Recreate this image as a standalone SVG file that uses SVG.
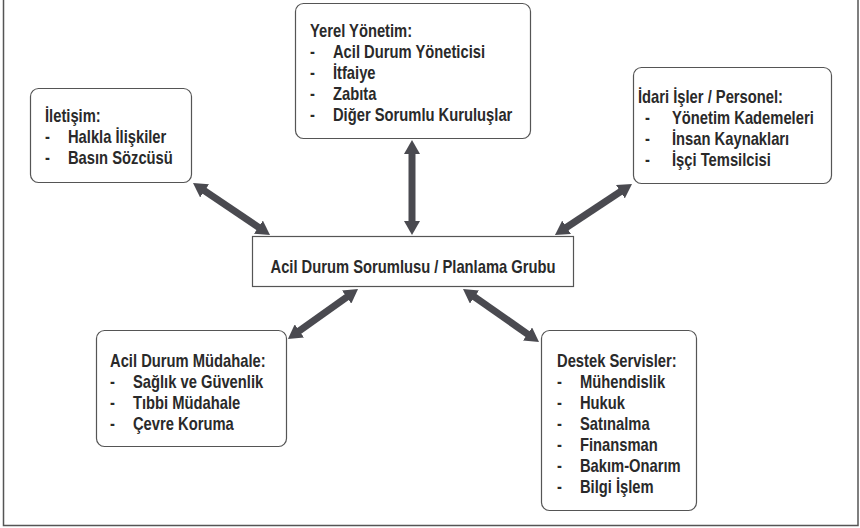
<svg xmlns="http://www.w3.org/2000/svg" width="860" height="528" viewBox="0 0 860 528">
  <style>
    .frame { fill: none; stroke: #555; stroke-width: 1.5; }
    .box { fill: #fff; stroke: #555; stroke-width: 1.2; }
    .lbl { font-family: "Liberation Sans", Arial, sans-serif; font-weight: bold; font-size: 18px; fill: #2a2a2a; }
    .link { stroke: #4a4a50; stroke-width: 7; fill: none; marker-start: url(#head); marker-end: url(#head); }
  </style>
  <defs>
    <marker id="head" viewBox="0 0 14 16" markerUnits="userSpaceOnUse" markerWidth="14" markerHeight="16" refX="4" refY="8" orient="auto-start-reverse">
      <path d="M0,0 L14,8 L0,16 z" fill="#4a4a50"/>
    </marker>
  </defs>

  <rect x="0" y="0" width="860" height="528" fill="#fff"/>
  <path class="frame" d="M3.5,0 V525.5 H858 V0"/>

  <!-- connectors -->
  <g id="connectors">
    <line class="link" x1="201.3" y1="188.6" x2="261.7" y2="229.4"/>
    <line class="link" x1="412" y1="150" x2="412" y2="225"/>
    <line class="link" x1="623.7" y1="189.5" x2="563.3" y2="229.5"/>
    <line class="link" x1="349.9" y1="294.8" x2="296.1" y2="333.2"/>
    <line class="link" x1="471.2" y1="294.7" x2="530.8" y2="336.3"/>
  </g>

  <!-- central group; labels use a narrowed bold face -->
  <g id="center">
    <rect class="box" x="252.5" y="236.5" width="321" height="50"/>
    <g transform="translate(413,0) scale(0.82,1)">
      <text class="lbl" x="0" y="273" text-anchor="middle">Acil Durum Sorumlusu / Planlama Grubu</text>
    </g>
  </g>

  <g id="yerel">
    <rect class="box" x="295.5" y="3.5" width="235" height="135" rx="8"/>
    <g transform="translate(310,0) scale(0.82,1)">
      <text class="lbl" x="0" y="37">Yerel Yönetim:</text>
      <text class="lbl" x="0" y="58">-</text><text class="lbl" x="28" y="58">Acil Durum Yöneticisi</text>
      <text class="lbl" x="0" y="79">-</text><text class="lbl" x="28" y="79">İtfaiye</text>
      <text class="lbl" x="0" y="100">-</text><text class="lbl" x="28" y="100">Zabıta</text>
      <text class="lbl" x="0" y="121">-</text><text class="lbl" x="28" y="121">Diğer Sorumlu Kuruluşlar</text>
    </g>
  </g>

  <g id="iletisim">
    <rect class="box" x="30.5" y="88.5" width="161" height="94" rx="8"/>
    <g transform="translate(45,0) scale(0.82,1)">
      <text class="lbl" x="0" y="122">İletişim:</text>
      <text class="lbl" x="0" y="143">-</text><text class="lbl" x="28" y="143">Halkla İlişkiler</text>
      <text class="lbl" x="0" y="164">-</text><text class="lbl" x="28" y="164">Basın Sözcüsü</text>
    </g>
  </g>

  <g id="idari">
    <rect class="box" x="633.5" y="67.5" width="198" height="116" rx="8"/>
    <g transform="translate(638,0) scale(0.82,1)">
      <text class="lbl" x="0" y="103">İdari İşler / Personel:</text>
      <text class="lbl" x="8.5" y="124">-</text><text class="lbl" x="41.5" y="124">Yönetim Kademeleri</text>
      <text class="lbl" x="8.5" y="145">-</text><text class="lbl" x="41.5" y="145">İnsan Kaynakları</text>
      <text class="lbl" x="8.5" y="166">-</text><text class="lbl" x="41.5" y="166">İşçi Temsilcisi</text>
    </g>
  </g>

  <g id="mudahale">
    <rect class="box" x="96.5" y="330.5" width="190" height="116" rx="8"/>
    <g transform="translate(110,0) scale(0.82,1)">
      <text class="lbl" x="0" y="367">Acil Durum Müdahale:</text>
      <text class="lbl" x="0" y="388">-</text><text class="lbl" x="28" y="388">Sağlık ve Güvenlik</text>
      <text class="lbl" x="0" y="409">-</text><text class="lbl" x="28" y="409">Tıbbi Müdahale</text>
      <text class="lbl" x="0" y="430">-</text><text class="lbl" x="28" y="430">Çevre Koruma</text>
    </g>
  </g>

  <g id="destek">
    <rect class="box" x="541.5" y="330.5" width="155" height="180" rx="8"/>
    <g transform="translate(557,0) scale(0.82,1)">
      <text class="lbl" x="0" y="367">Destek Servisler:</text>
      <text class="lbl" x="0" y="388">-</text><text class="lbl" x="28" y="388">Mühendislik</text>
      <text class="lbl" x="0" y="409">-</text><text class="lbl" x="28" y="409">Hukuk</text>
      <text class="lbl" x="0" y="430">-</text><text class="lbl" x="28" y="430">Satınalma</text>
      <text class="lbl" x="0" y="451">-</text><text class="lbl" x="28" y="451">Finansman</text>
      <text class="lbl" x="0" y="472">-</text><text class="lbl" x="28" y="472">Bakım-Onarım</text>
      <text class="lbl" x="0" y="493">-</text><text class="lbl" x="28" y="493">Bilgi İşlem</text>
    </g>
  </g>
</svg>
